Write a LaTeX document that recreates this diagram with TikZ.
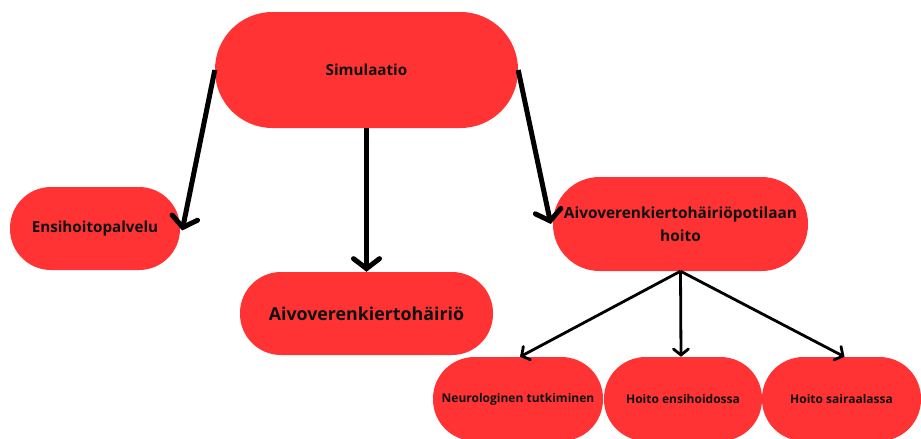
\documentclass[tikz,border=0pt]{standalone}
\usepackage{fontspec}
\setmainfont{Open Sans}
\usetikzlibrary{arrows.meta}
\definecolor{boxred}{HTML}{FF3333}
\definecolor{ink}{HTML}{111111}
\tikzset{
  pill/.style args={#1/#2}{fill=boxred, draw=none, rectangle, rounded corners=#2/2-0.5pt,
    minimum width=#1, minimum height=#2, inner sep=0pt, align=center, text=ink, font=\bfseries},
  bigarrow/.style={line width=5pt, draw=black, -{Straight Barb[length=10pt,width=26pt,line cap=round]}},
  thinarrow/.style={line width=2.8pt, draw=black, -{Straight Barb[length=6pt,width=15pt,line cap=round]}}
}
\begin{document}
\begin{tikzpicture}[x=1pt,y=-1pt]
\useasboundingbox (0,0) rectangle (921,439);
\node[pill=303pt/116pt, font=\bfseries\fontsize{15.2}{18}\selectfont] (sim) at (366.5,70) {Simulaatio};
\node[pill=170pt/83pt, font=\bfseries\fontsize{15.2}{18}\selectfont] (ens) at (95,228.5) {Ensihoitopalvelu};
\node[pill=253pt/83pt, font=\bfseries\fontsize{17.8}{20}\selectfont] (avh) at (366.5,313.5) {Aivoverenkiertohäiriö};
\node[pill=255pt/94pt, font=\bfseries\fontsize{15.4}{23}\selectfont] (hoito) at (680.5,224) {Aivoverenkiertohäiriöpotilaan\\hoito};
\node[pill=170pt/84pt, font=\bfseries\fontsize{12}{14}\selectfont] (neuro) at (518,399) {Neurologinen tutkiminen};
\node[pill=158pt/84pt, font=\bfseries\fontsize{12}{14}\selectfont] (hens) at (683,399) {Hoito ensihoidossa};
\node[pill=159pt/84pt, font=\bfseries\fontsize{12}{14}\selectfont] (hsai) at (841.5,399) {Hoito sairaalassa};
\draw[bigarrow] (sim.west) -- ([xshift=2pt,yshift=-2pt]ens.east);
\draw[bigarrow] (sim.south) -- (avh.north);
\draw[bigarrow] (sim.east) -- ([xshift=-2pt]hoito.west);
\draw[thinarrow] (hoito.south) -- ([xshift=2pt]neuro.north);
\draw[thinarrow] (hoito.south) -- ([xshift=-2pt]hens.north);
\draw[thinarrow] (hoito.south) -- ([xshift=3pt]hsai.north);
\end{tikzpicture}
\end{document}
